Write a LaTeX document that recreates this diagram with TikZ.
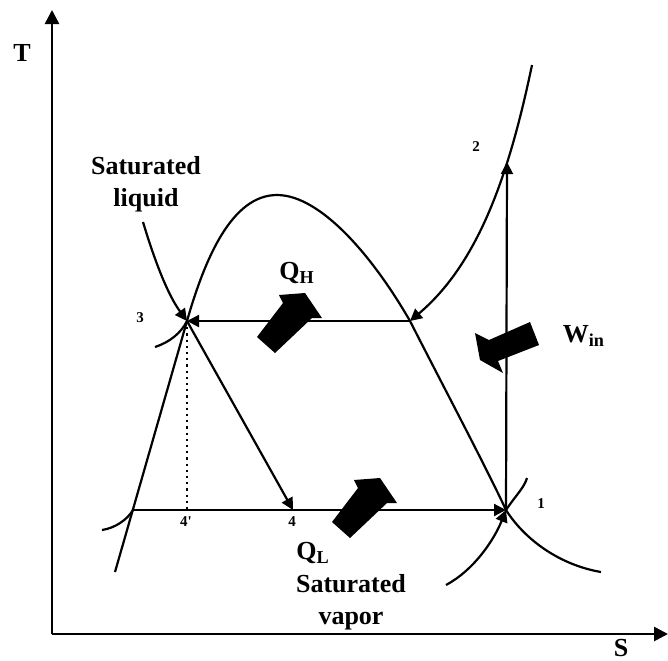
\documentclass[tikz,border=0pt]{standalone}
\usepackage{fontspec}
\setmainfont{Liberation Serif}
\usetikzlibrary{arrows.meta}

\tikzset{
  lbl/.style={font=\fontsize{13}{16}\selectfont\bfseries, inner sep=0pt, align=center},
  num/.style={font=\fontsize{7.5}{8}\selectfont\bfseries, inner sep=0pt},
  axis/.style={line width=1.3pt, -{Triangle[length=7pt,width=7pt]}},
  heatarrow/.style={fill=black, draw=none},
}

\begin{document}
\begin{tikzpicture}[x=0.5pt, y=-0.5pt, line width=1.1pt, >={Triangle[length=6pt,width=6pt]}]
\useasboundingbox (0,0) rectangle (668,660);

% axes
\coordinate (o) at (52,634);
\coordinate (tend) at (52,10);
\coordinate (send) at (668,634);
\draw[axis] (o) -- (tend);
\draw[axis] (o) -- (send);
\node[lbl] (tlabel) at (22,53) {T};
\node[lbl] (slabel) at (621,648) {S};

% state points
\coordinate (p1) at (506,510);
\coordinate (p2) at (507,162);
\coordinate (p3) at (187,321);
\coordinate (p4) at (293,510);
\coordinate (p4s) at (187,510);
\coordinate (pf) at (133,510);
\coordinate (pg) at (410,321);

% saturation dome
\draw (115,572) -- (p3) .. controls (205,258) and (232,195) .. (277,195)
  .. controls (320,195) and (372,255) .. (pg)
  .. controls (440,380) and (485,465) .. (p1)
  .. controls (525,540) and (560,565) .. (601,572);

% isobars
\draw (155,347) .. controls (170,342) and (181,333) .. (p3);
\draw[->] (532,65) .. controls (510,170) and (480,262) .. (pg);
\draw (102,530) .. controls (115,528) and (127,520) .. (pf);
\draw[->] (446,585) .. controls (474,570) and (494,540) .. (p1);
\draw (p1) .. controls (516,495) and (524,488) .. (527,478);

% cycle
\draw[->] (pg) -- (p3);
\draw[->] (p3) -- (p4);
\draw[->] (pf) -- (p1);
\draw[->] (p1) -- (p2);
\draw[dotted] (p3) -- (p4s);

% saturated liquid pointer
\coordinate (sltail) at (143,222);
\draw[->] (sltail) .. controls (155,262) and (168,295) .. (p3);

% heat and work arrows
\path[heatarrow] (257,337) -- (283,303) -- (279,295) -- (305,293) -- (322,318) -- (312,318) -- (275,353) -- cycle;
\path[heatarrow, shift={(75,185)}] (257,337) -- (283,303) -- (279,295) -- (305,293) -- (322,318) -- (312,318) -- (275,353) -- cycle;
\path[heatarrow] (530,322) -- (539,345) -- (498,361) -- (503,373) -- (480,360) -- (475,333) -- (489,340) -- cycle;

% labels
\node[lbl] (satliq) at (146,184) {Saturated\\liquid};
\node[lbl] (satvap) at (351,602) {Saturated\\vapor};
\node[lbl] (qh) at (297,273) {Q\textsubscript{H}};
\node[lbl] (ql) at (313,553) {Q\textsubscript{L}};
\node[lbl] (win) at (584,336) {W\textsubscript{in}};
\node[num] (l1) at (541,504) {1};
\node[num] (l2) at (476,147) {2};
\node[num] (l3) at (140,318) {3};
\node[num] (l4) at (292,522) {4};
\node[num] (l4s) at (186,522) {4\textquotesingle};
\end{tikzpicture}
\end{document}
